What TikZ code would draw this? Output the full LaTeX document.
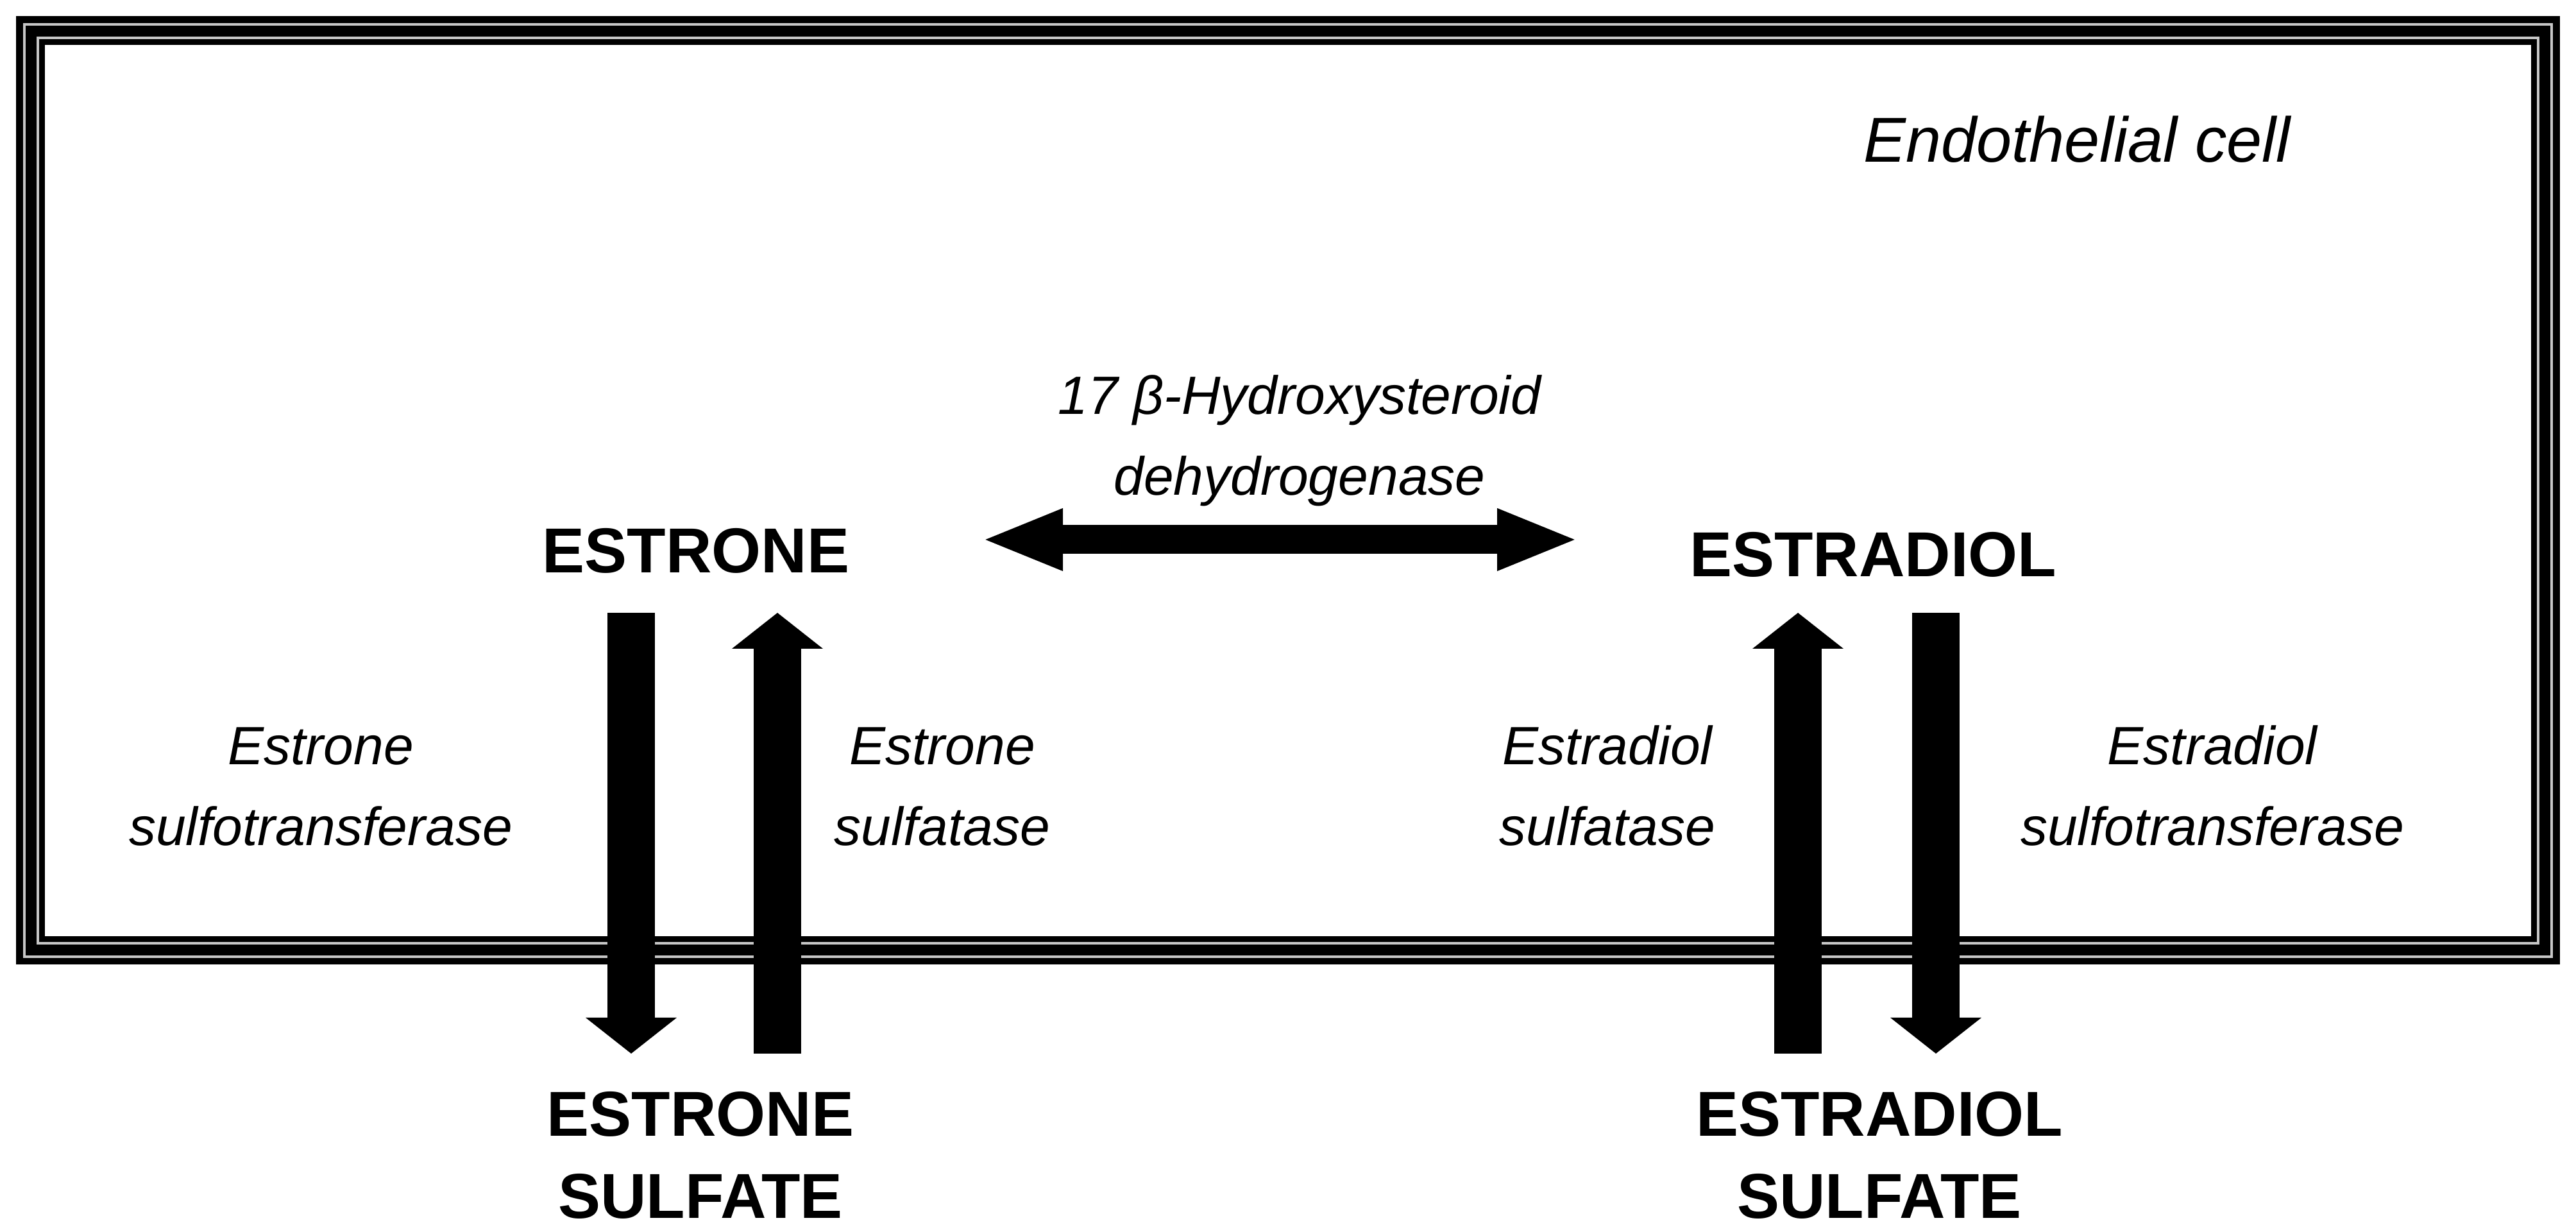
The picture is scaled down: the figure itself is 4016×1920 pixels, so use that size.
\documentclass[tikz,border=0pt]{standalone}
\usepackage{fontspec}
\setmainfont{Liberation Sans}
\usetikzlibrary{arrows.meta}
\definecolor{bandgray}{gray}{0.78}
\begin{document}
\begin{tikzpicture}[x=0.1pt,y=-0.1pt,
  cmpd/.style={font=\fontsize{9.9}{12}\selectfont\bfseries, anchor=base, inner sep=0pt},
  enz/.style={font=\fontsize{8.4}{10}\selectfont\itshape, anchor=base, inner sep=0pt},
  celllabel/.style={font=\fontsize{9.9}{12}\selectfont\itshape, anchor=base, inner sep=0pt},
  vbar/.style={line width=7.4pt, -{Triangle[length=5.6pt,width=13.9pt]}},
  hbar/.style={line width=4.5pt, {Triangle[length=12.8pt,width=8.7pt]}-{Triangle[length=12.8pt,width=8.7pt]}},
  band/.style={line width=4.45pt, line join=miter},
  bandline/.style={bandgray, line width=0.45pt, line join=miter},
]
\useasboundingbox (0,0) rectangle (4016,1920);
\fill[white] (0,0) rectangle (4016,1920);

% cell membrane (triple line border)
\draw[band] (47.5,47.5) rectangle (3968.5,1481);
\draw[bandline] (38,38) rectangle (3978,1491);
\draw[bandline] (59,59) rectangle (3957,1470);

% labels
\node[celllabel] (cell) at (3238,253) {Endothelial cell};
\node[enz] (hsdA) at (2026,646) {17 β-Hydroxysteroid};
\node[enz] (hsdB) at (2026,772) {dehydrogenase};

\node[cmpd] (estrone) at (1085,893) {ESTRONE};
\node[cmpd] (estradiol) at (2920,899) {ESTRADIOL};
\node[cmpd] (esA) at (1092,1770) {ESTRONE};
\node[cmpd] (esB) at (1092,1898) {SULFATE};
\node[cmpd] (edsA) at (2930,1770) {ESTRADIOL};
\node[cmpd] (edsB) at (2930,1898) {SULFATE};

\node[enz] (stA) at (500,1192) {Estrone};
\node[enz] (stB) at (500,1318) {sulfotransferase};
\node[enz] (saA) at (1469,1192) {Estrone};
\node[enz] (saB) at (1469,1318) {sulfatase};
\node[enz] (dsaA) at (2506,1192) {Estradiol};
\node[enz] (dsaB) at (2506,1318) {sulfatase};
\node[enz] (dstA) at (3449,1192) {Estradiol};
\node[enz] (dstB) at (3449,1318) {sulfotransferase};

% arrow end points
\coordinate (hL) at (1529,841);
\coordinate (hR) at (2462,841);
\coordinate (aTop) at (984,955);   \coordinate (aBot) at (984,1642);
\coordinate (bTop) at (1212,955);  \coordinate (bBot) at (1212,1642);
\coordinate (cTop) at (2803,955);  \coordinate (cBot) at (2803,1642);
\coordinate (dTop) at (3018,955);  \coordinate (dBot) at (3018,1642);

\draw[hbar] (hL) -- (hR);
\draw[vbar] (aTop) -- (aBot);
\draw[vbar] (bBot) -- (bTop);
\draw[vbar] (cBot) -- (cTop);
\draw[vbar] (dTop) -- (dBot);
\end{tikzpicture}
\end{document}
